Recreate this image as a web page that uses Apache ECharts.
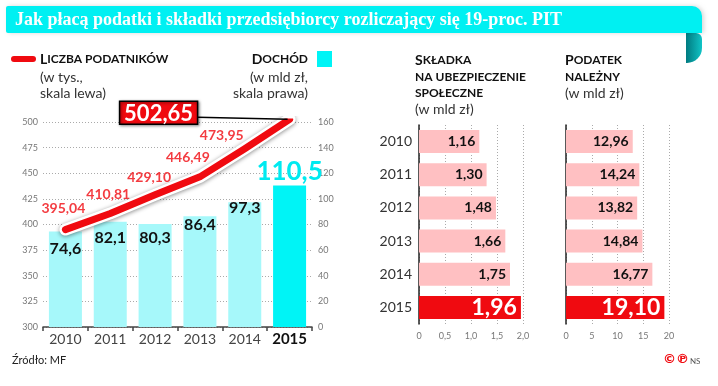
<!DOCTYPE html>
<html><head><meta charset="utf-8">
<script src="https://cdn.jsdelivr.net/npm/echarts@6/dist/echarts.min.js"></script>
<style>html,body{margin:0;padding:0;background:#fff}#c{width:718px;height:386px}</style>
</head><body><div id="c"></div>
<script>
// ---- data ----
const years = ['2010', '2011', '2012', '2013', '2014', '2015'];
const taxpayers = [395.04, 410.81, 429.10, 446.49, 473.95, 502.65];   // thousands, left scale
const income = [74.6, 82.1, 80.3, 86.4, 97.3, 110.5];                 // bln PLN, right scale
const contributions = [1.16, 1.30, 1.48, 1.66, 1.75, 1.96];           // bln PLN
const taxDue = [12.96, 14.24, 13.82, 14.84, 16.77, 19.10];            // bln PLN
const leftScale = [300, 325, 350, 375, 400, 425, 450, 475, 500];
const rightScale = [0, 20, 40, 60, 80, 100, 120, 140, 160];
const contribTicks = [0, 0.5, 1.0, 1.5, 2.0];
const taxTicks = [0, 5, 10, 15, 20];

// ---- styling ----
const F = 'Lato, "Open Sans", sans-serif';
const RED = '#f00a10';
const CYAN = '#00f4f6';
const CYAN_L = '#a6f8fa';
const PINK = '#ffc0c2';
const fmt = (v, d) => v.toFixed(d).replace('.', ',');
const last = years.length - 1;

const lineLabelOffsets = [[-2, -13], [-2, -11], [-6, -9], [-12, -11], [-23, -5]];
const barLabelOffsets = [9, 8, 6, 1, -2];

const chart = echarts.init(document.getElementById('c'), null, {renderer: 'canvas'});

function hBarAxis(ticks, idx) {
  return {
    type: 'value', gridIndex: idx, min: ticks[0], max: ticks[ticks.length - 1],
    interval: ticks[1] - ticks[0],
    axisLine: {show: false}, axisTick: {show: false},
    axisLabel: {fontSize: 9, color: '#777', fontFamily: F, margin: 8,
      formatter: v => (idx === 1 ? (v === 0 ? '0' : fmt(v, 1)) : String(v))},
    splitLine: {show: true, lineStyle: {color: '#aaa', type: [1, 2], width: 1}}
  };
}
function hCatAxis(idx, showLabels) {
  return {
    type: 'category', gridIndex: idx, data: years, inverse: true,
    axisLine: {show: true, lineStyle: {color: '#222', width: 1.5}},
    axisTick: {show: false},
    axisLabel: {show: showLabels, interval: 0, fontSize: 14, color: '#333', fontFamily: F, margin: 7}
  };
}
function hBarSeries(vals, idx) {
  return {
    type: 'bar', xAxisIndex: idx, yAxisIndex: idx + 1, barWidth: 23,
    data: vals.map((v, i) => ({
      value: v,
      itemStyle: {color: i === last ? RED : PINK},
      label: i === last
        ? {show: true, position: 'insideRight', distance: 4, color: '#fff', fontSize: 23, fontWeight: 'bold', fontFamily: F, formatter: fmt(v, 2)}
        : {show: true, position: 'insideRight', distance: 4, color: '#111', fontSize: 14, fontWeight: 'bold', fontFamily: F, formatter: fmt(v, 2)}
    }))
  };
}

const staticGraphics = [
  {type: 'rect', shape: {x: 6, y: 6, width: 696, height: 27, r: [2, 10, 0, 2]}, style: {fill: '#00f0f2', shadowBlur: 4, shadowColor: 'rgba(0,0,0,0.15)', shadowOffsetX: 2}, z: 10},
  {type: 'rect', shape: {x: 686, y: 33, width: 16, height: 30, r: [0, 6, 15, 0]}, z: 9,
    style: {fill: {type: 'linear', x: 0, y: 0, x2: 1, y2: 0, colorStops: [{offset: 0, color: '#007a80'}, {offset: 1, color: '#10c4c6'}]}}},
  {type: 'text', x: 15, y: 20, z: 11, style: {text: 'Jak płacą podatki i składki przedsiębiorcy rozliczający się 19-proc. PIT',
    fill: '#fff', font: 'bold 18px "Liberation Serif", serif', verticalAlign: 'middle'}},
  {type: 'line', shape: {x1: 14, y1: 59, x2: 33, y2: 59}, style: {stroke: RED, lineWidth: 6, lineCap: 'round'}},
  {type: 'text', x: 40, y: 59, style: {text: '{a|L}{b|ICZBA PODATNIKÓW}', verticalAlign: 'middle',
    rich: {a: {fontSize: 14, fontWeight: 'bold', fill: '#111', fontFamily: F}, b: {fontSize: 12, fontWeight: 'bold', fill: '#111', fontFamily: F}}}},
  {type: 'text', x: 40, y: 77, style: {text: '(w tys.,', fill: '#333', font: '14px ' + F, verticalAlign: 'middle'}},
  {type: 'text', x: 40, y: 93, style: {text: 'skala lewa)', fill: '#333', font: '14px ' + F, verticalAlign: 'middle'}},
  {type: 'text', x: 308, y: 59, style: {text: '{a|D}{b|OCHÓD}', verticalAlign: 'middle', align: 'right',
    rich: {a: {fontSize: 14, fontWeight: 'bold', fill: '#111', fontFamily: F}, b: {fontSize: 12, fontWeight: 'bold', fill: '#111', fontFamily: F}}}},
  {type: 'rect', shape: {x: 317, y: 51, width: 15, height: 16}, style: {fill: CYAN}},
  {type: 'text', x: 308, y: 77, style: {text: '(w mld zł,', fill: '#333', font: '14px ' + F, verticalAlign: 'middle', align: 'right'}},
  {type: 'text', x: 308, y: 93, style: {text: 'skala prawa)', fill: '#333', font: '14px ' + F, verticalAlign: 'middle', align: 'right'}},
  {type: 'text', x: 415, y: 60, style: {text: '{a|S}{b|KŁADKA}', verticalAlign: 'middle',
    rich: {a: {fontSize: 14, fontWeight: 'bold', fill: '#111', fontFamily: F}, b: {fontSize: 12, fontWeight: 'bold', fill: '#111', fontFamily: F}}}},
  {type: 'text', x: 415, y: 77, style: {text: 'NA UBEZPIECZENIE', fill: '#111', font: 'bold 12px ' + F, verticalAlign: 'middle'}},
  {type: 'text', x: 415, y: 93, style: {text: 'SPOŁECZNE', fill: '#111', font: 'bold 12px ' + F, verticalAlign: 'middle'}},
  {type: 'text', x: 415, y: 109, style: {text: '(w mld zł)', fill: '#333', font: '14px ' + F, verticalAlign: 'middle'}},
  {type: 'text', x: 565, y: 60, style: {text: '{a|P}{b|ODATEK}', verticalAlign: 'middle',
    rich: {a: {fontSize: 14, fontWeight: 'bold', fill: '#111', fontFamily: F}, b: {fontSize: 12, fontWeight: 'bold', fill: '#111', fontFamily: F}}}},
  {type: 'text', x: 565, y: 77, style: {text: 'NALEŻNY', fill: '#111', font: 'bold 12px ' + F, verticalAlign: 'middle'}},
  {type: 'text', x: 565, y: 93, style: {text: '(w mld zł)', fill: '#333', font: '14px ' + F, verticalAlign: 'middle'}},
  {type: 'text', x: 12, y: 360, style: {text: 'Źródło: MF', fill: '#222', font: '11px ' + F, verticalAlign: 'middle'}},
  {type: 'text', x: 663, y: 360, style: {text: '©℗', fill: RED, font: 'bold 13px "DejaVu Sans", sans-serif', verticalAlign: 'middle'}},
  {type: 'text', x: 690, y: 361, style: {text: 'NS', fill: '#555', font: '8px ' + F, verticalAlign: 'middle'}}
];

const option = {
  animation: false,
  backgroundColor: '#fff',
  grid: [
    {left: 43, right: 406, top: 122, bottom: 59},
    {left: 419, width: 104, top: 125, height: 199},
    {left: 566, width: 103, top: 125, height: 199}
  ],
  xAxis: [
    {type: 'category', gridIndex: 0, data: years,
      axisLine: {lineStyle: {color: '#444', width: 1.5}},
      axisTick: {show: true, length: 4, lineStyle: {color: '#444', width: 1.5}},
      axisLabel: {interval: 0, fontSize: 14, color: '#444', fontFamily: F, margin: 5,
        formatter: v => v === years[last] ? '{b|' + v + '}' : v,
        rich: {b: {fontSize: 15, fontWeight: 'bold', color: '#111', fontFamily: F}}}},
    hBarAxis(contribTicks, 1),
    hBarAxis(taxTicks, 2)
  ],
  yAxis: [
    {type: 'value', gridIndex: 0, min: leftScale[0], max: leftScale[leftScale.length - 1],
      interval: leftScale[1] - leftScale[0],
      axisLine: {show: false}, axisTick: {show: false},
      axisLabel: {fontSize: 9, color: '#777', fontFamily: F, margin: 5},
      splitLine: {show: true, lineStyle: {color: '#aaa', type: [1, 2]}}},
    {type: 'value', gridIndex: 0, min: rightScale[0], max: rightScale[rightScale.length - 1],
      interval: rightScale[1] - rightScale[0], position: 'right',
      axisLine: {show: false}, axisTick: {show: false},
      axisLabel: {fontSize: 9, color: '#777', fontFamily: F, margin: 6},
      splitLine: {show: false}},
    hCatAxis(1, true),
    hCatAxis(2, false)
  ],
  series: [
    {type: 'bar', xAxisIndex: 0, yAxisIndex: 1, barWidth: 33, z: 1,
      data: income.map((v, i) => ({
        value: v,
        itemStyle: {color: i === last ? CYAN : CYAN_L},
        label: i === last
          ? {show: true, position: 'top', distance: 1, color: '#00eaf0', fontSize: 26, fontWeight: 'bold', fontFamily: F, formatter: fmt(v, 1)}
          : {show: true, position: 'insideTop', distance: 0, offset: [0, barLabelOffsets[i]], color: '#111', fontSize: 16, fontWeight: 'bold', fontFamily: F, formatter: fmt(v, 1)}
      }))},
    {type: 'line', xAxisIndex: 0, yAxisIndex: 0, data: taxpayers, symbol: 'none', z: 3,
      lineStyle: {color: '#fff', width: 12, cap: 'round', join: 'round', shadowBlur: 4, shadowColor: 'rgba(0,0,0,0.45)', shadowOffsetY: 1}},
    {type: 'line', xAxisIndex: 0, yAxisIndex: 0, symbol: 'none', z: 4, data: taxpayers,
      lineStyle: {color: RED, width: 7, cap: 'round', join: 'round'}},
    {type: 'scatter', xAxisIndex: 0, yAxisIndex: 0, symbolSize: 2, z: 5,
      itemStyle: {color: 'rgba(0,0,0,0)'},
      data: taxpayers.map((v, i) => i === last ? '-' : {
        value: v,
        label: {show: true, position: 'top', distance: 0, offset: lineLabelOffsets[i], color: RED, fontSize: 14, fontWeight: 'bold', fontFamily: F, formatter: fmt(v, 2)}
      })},
    hBarSeries(contributions, 1),
    hBarSeries(taxDue, 2)
  ],
  graphic: staticGraphics
};
chart.setOption(option);

// boxed call-out for the last point, placed from the library's own scale
const pt = chart.convertToPixel({xAxisIndex: 0, yAxisIndex: 0}, [years[last], taxpayers[last]]);
const boxW = 78, boxH = 23;
const boxX = pt[0] - 92 - boxW, boxY = pt[1] - 18;
chart.setOption({
  graphic: staticGraphics.concat([
    {type: 'line', z: 20, shape: {x1: boxX + boxW, y1: boxY + 16, x2: pt[0] - 2, y2: pt[1]},
      style: {stroke: '#000', lineWidth: 1.5}},
    {type: 'rect', z: 21, shape: {x: boxX, y: boxY, width: boxW, height: boxH},
      style: {fill: RED, stroke: '#000', lineWidth: 1.5, shadowBlur: 3, shadowColor: 'rgba(0,0,0,0.5)', shadowOffsetX: 1, shadowOffsetY: 1}},
    {type: 'text', z: 22, x: boxX + boxW / 2, y: boxY + boxH / 2 + 1,
      style: {text: fmt(taxpayers[last], 2), fill: '#fff', font: 'bold 22px ' + F, align: 'center', verticalAlign: 'middle'}}
  ])
}, {replaceMerge: ['graphic']});
</script>
</body></html>
